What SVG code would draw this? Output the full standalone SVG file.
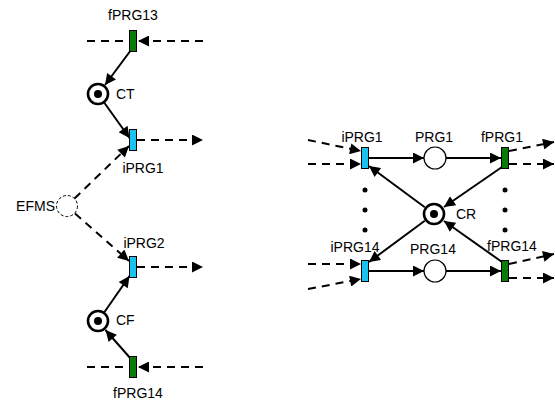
<svg xmlns="http://www.w3.org/2000/svg" width="555" height="400" viewBox="0 0 555 400">
  <defs>
    <marker id="ah" viewBox="0 0 10 10" refX="10" refY="5" markerWidth="13" markerHeight="11" markerUnits="userSpaceOnUse" orient="auto">
      <path d="M0,0 L10,5 L0,10 z" fill="#000"/>
    </marker>
    <style>
      text { font-family: "Liberation Sans", Arial, sans-serif; font-size: 14px; fill: #000; }
      .mid { text-anchor: middle; }
      .arc { fill: none; stroke: #000; stroke-width: 2; }
      .dash { fill: none; stroke: #000; stroke-width: 2; stroke-dasharray: 8 6; }
      .tin { fill: #19C3F0; stroke: #000; stroke-width: 1; }
      .tfin { fill: #0A7A0A; stroke: #000; stroke-width: 1; }
      .place { fill: #fff; stroke: #000; stroke-width: 1.2; }
      .marked { fill: #fff; stroke: #000; stroke-width: 2.6; }
      .ext { fill: #fff; stroke: #000; stroke-width: 1; stroke-dasharray: 3 2; }
    </style>
  </defs>

  <!-- connectors -->
  <g id="connectors">
    <!-- left net -->
    <path class="dash" d="M87,41 H129"/>
    <path class="dash" d="M203,41 H138" marker-end="url(#ah)"/>
    <path class="arc" d="M131,50 L105,85" marker-end="url(#ah)"/>
    <path class="arc" d="M104.5,103 L129.5,138" marker-end="url(#ah)"/>
    <path class="dash" d="M137,140 H203" marker-end="url(#ah)"/>
    <path class="dash" d="M74.5,198.5 L129,146" marker-end="url(#ah)"/>
    <path class="dash" d="M75,213.5 L129,261" marker-end="url(#ah)"/>
    <path class="dash" d="M137,267 H203" marker-end="url(#ah)"/>
    <path class="arc" d="M104.5,312 L129.5,276" marker-end="url(#ah)"/>
    <path class="arc" d="M131,359 L105.5,330" marker-end="url(#ah)"/>
    <path class="dash" d="M87,367 H129"/>
    <path class="dash" d="M203,367 H138" marker-end="url(#ah)"/>

    <!-- right net: inputs / outputs -->
    <path class="dash" d="M308,140 L361,151" marker-end="url(#ah)"/>
    <path class="dash" d="M308,164 H361" marker-end="url(#ah)"/>
    <path class="dash" d="M509,151 L554,142" marker-end="url(#ah)"/>
    <path class="dash" d="M509,164 H554" marker-end="url(#ah)"/>
    <path class="dash" d="M308,264 H361" marker-end="url(#ah)"/>
    <path class="dash" d="M308,289 L361,279" marker-end="url(#ah)"/>
    <path class="dash" d="M509,264 L554,254" marker-end="url(#ah)"/>
    <path class="dash" d="M509,278 H554" marker-end="url(#ah)"/>

    <!-- right net: internal arcs -->
    <path class="arc" d="M369,158 H424" marker-end="url(#ah)"/>
    <path class="arc" d="M446,158 H501" marker-end="url(#ah)"/>
    <path class="arc" d="M369,271 H424" marker-end="url(#ah)"/>
    <path class="arc" d="M446,271 H501" marker-end="url(#ah)"/>
    <path class="arc" d="M424.8,207.2 L369,166" marker-end="url(#ah)"/>
    <path class="arc" d="M502,167 L444,207" marker-end="url(#ah)"/>
    <path class="arc" d="M424.8,220.8 L369,262" marker-end="url(#ah)"/>
    <path class="arc" d="M502,262 L444,221" marker-end="url(#ah)"/>
  </g>

  <!-- left net nodes -->
  <g id="fPRG13">
    <rect class="tfin" x="129.5" y="30.5" width="7" height="21"/>
    <text class="mid" x="133" y="20">fPRG13</text>
  </g>
  <g id="CT">
    <circle class="marked" cx="98" cy="94" r="10"/>
    <circle cx="98" cy="94" r="4" fill="#000"/>
    <text x="116" y="99">CT</text>
  </g>
  <g id="iPRG1-left">
    <rect class="tin" x="129.5" y="129.5" width="7" height="21"/>
    <text class="mid" x="143" y="173">iPRG1</text>
  </g>
  <g id="EFMS">
    <circle class="ext" cx="67" cy="206" r="10.5"/>
    <text x="55" y="211" text-anchor="end">EFMS</text>
  </g>
  <g id="iPRG2">
    <rect class="tin" x="129.5" y="256.5" width="7" height="21"/>
    <text class="mid" x="144" y="248">iPRG2</text>
  </g>
  <g id="CF">
    <circle class="marked" cx="98" cy="321" r="10"/>
    <circle cx="98" cy="321" r="4" fill="#000"/>
    <text x="116" y="325">CF</text>
  </g>
  <g id="fPRG14-left">
    <rect class="tfin" x="129.5" y="356.5" width="7" height="21"/>
    <text class="mid" x="138" y="398">fPRG14</text>
  </g>

  <!-- right net nodes -->
  <g id="iPRG1">
    <rect class="tin" x="361.5" y="147.5" width="7" height="21"/>
    <text class="mid" x="362" y="142">iPRG1</text>
  </g>
  <g id="PRG1">
    <circle class="place" cx="435" cy="158" r="11"/>
    <text class="mid" x="434" y="142">PRG1</text>
  </g>
  <g id="fPRG1">
    <rect class="tfin" x="501.5" y="147.5" width="7" height="21"/>
    <text class="mid" x="502" y="142">fPRG1</text>
  </g>
  <g id="CR">
    <circle class="marked" cx="434" cy="214" r="10"/>
    <circle cx="434" cy="214" r="4" fill="#000"/>
    <text x="456" y="219">CR</text>
  </g>
  <g id="iPRG14">
    <rect class="tin" x="361.5" y="260.5" width="7" height="21"/>
    <text class="mid" x="355" y="252">iPRG14</text>
  </g>
  <g id="PRG14">
    <circle class="place" cx="435" cy="271" r="11"/>
    <text class="mid" x="433" y="254">PRG14</text>
  </g>
  <g id="fPRG14">
    <rect class="tfin" x="501.5" y="260.5" width="7" height="21"/>
    <text class="mid" x="512" y="251">fPRG14</text>
  </g>

  <!-- ellipsis dots between rows -->
  <g id="ellipsis" fill="#000">
    <circle cx="365" cy="190" r="2.5"/>
    <circle cx="365" cy="210" r="2.5"/>
    <circle cx="365" cy="230" r="2.5"/>
    <circle cx="505" cy="190" r="2.5"/>
    <circle cx="505" cy="210" r="2.5"/>
    <circle cx="505" cy="230" r="2.5"/>
  </g>
</svg>
